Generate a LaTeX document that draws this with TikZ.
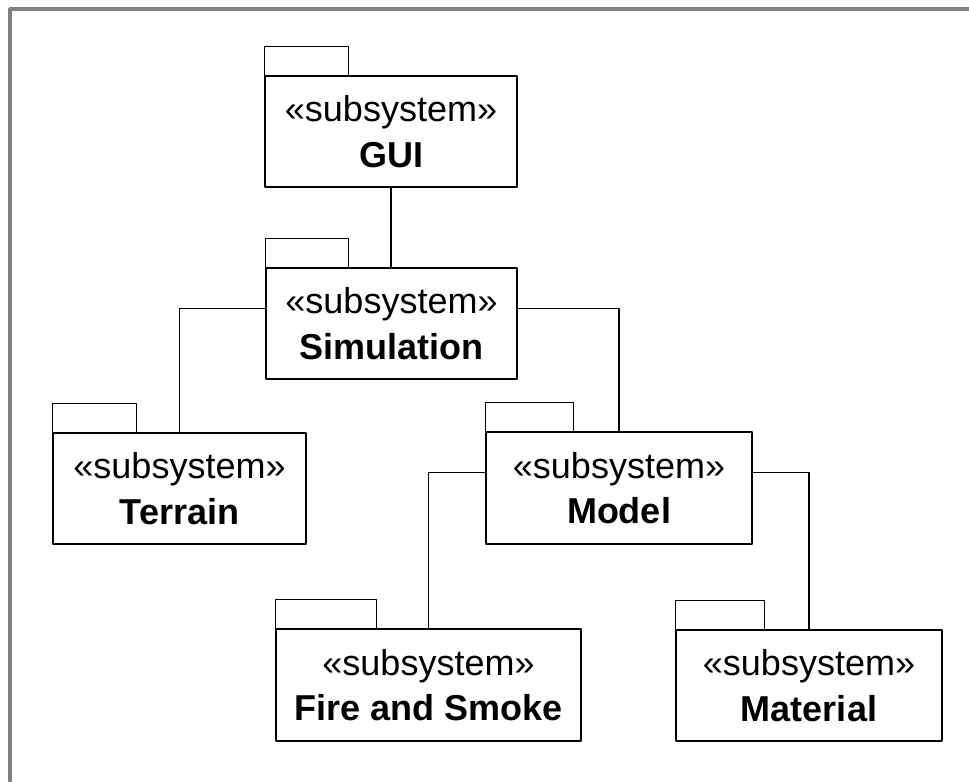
\documentclass[tikz,border=0pt]{standalone}
\usepackage{fontspec}
\setmainfont{Liberation Sans}
\usetikzlibrary{calc}
\tikzset{
	pkg/.style={draw, line width=0.9pt, align=center, inner sep=0pt, font=\fontsize{27}{34}\selectfont},
	tab/.style={draw, line width=0.9pt},
	link/.style={line width=0.9pt}
}
\begin{document}
\begin{tikzpicture}[x=0.75pt, y=-0.75pt, line cap=round, line join=round]
		\useasboundingbox (0,0) rectangle (969,781);
		\draw [gray, line width=2.6pt] (10,781)--(10,9)--(969,9);
		% packages
		\node[pkg, minimum width=189pt, minimum height=83.25pt] (gui) at (391,131.5) {«subsystem»\\\textbf{GUI}};
		\node[pkg, minimum width=188.25pt, minimum height=83.25pt] (sim) at (391.5,323.5) {«subsystem»\\\textbf{Simulation}};
		\node[pkg, minimum width=189.75pt, minimum height=83.25pt] (ter) at (179.5,488.5) {«subsystem»\\\textbf{Terrain}};
		\node[pkg, minimum width=199.5pt, minimum height=84pt] (mod) at (619,488) {«subsystem»\\\textbf{Model}};
		\node[pkg, minimum width=228.75pt, minimum height=84pt] (fire) at (428.5,685) {«subsystem»\\\textbf{Fire and Smoke}};
		\node[pkg, minimum width=199.5pt, minimum height=83.25pt] (mat) at (809,685.5) {«subsystem»\\\textbf{Material}};
		\foreach \n/\w in {gui/84, sim/83, ter/84, mod/88, fire/101, mat/89} \draw[tab] (\n.north west) rectangle ++(\w,-29);
		% links
		\draw[link] (gui.south)--(gui.south |- sim.north);
		\draw[link] ($(sim.north west)+(0,41)$) -| (ter.north);
		\draw[link] ($(sim.north east)+(0,41)$) -| (mod.north);
		\draw[link] ($(mod.north west)+(0,41)$) -| (fire.north);
		\draw[link] ($(mod.north east)+(0,41)$) -| (mat.north);
\end{tikzpicture}
\end{document}
